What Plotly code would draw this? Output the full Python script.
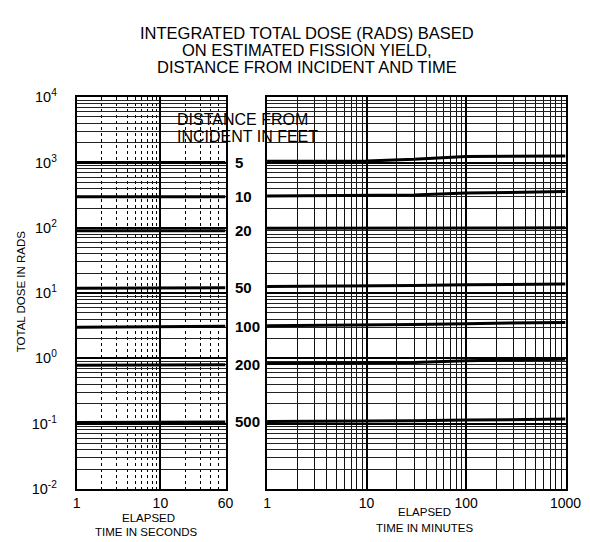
import plotly.graph_objects as go
import math

# ---------------- data ----------------
distances_ft = ["5", "10", "20", "50", "100", "200", "500"]

sec_times = [1, 10, 60]
sec_dose = {
    "5":   [1000, 1000, 1000],
    "10":  [300, 300, 300],
    "20":  [90, 90, 90],
    "50":  [11.8, 12.0, 12.1],
    "100": [3.0, 3.08, 3.1],
    "200": [0.78, 0.79, 0.80],
    "500": [0.104, 0.105, 0.106],
}

min_times = [1, 10, 30, 100, 1000]
min_dose = {
    "5":   [1050, 1060, 1120, 1240, 1260],
    "10":  [308, 310, 318, 340, 360],
    "20":  [98, 99, 100, 100, 100],
    "50":  [12.6, 12.8, 13.0, 13.4, 13.8],
    "100": [3.15, 3.2, 3.3, 3.4, 3.55],
    "200": [0.83, 0.84, 0.86, 0.92, 0.97],
    "500": [0.108, 0.109, 0.110, 0.113, 0.117],
}

y_tickvals = [1e-2, 1e-1, 1e0, 1e1, 1e2, 1e3, 1e4]
y_ticktext = ["10<sup>-2</sup>", "10<sup>-1</sup>", "10<sup>0</sup>", "10<sup>1</sup>",
              "10<sup>2</sup>", "10<sup>3</sup>", "10<sup>4</sup>"]
sec_tickvals = [1, 10, 60]
sec_ticktext = ["1", "10", "60"]
min_tickvals = [1, 10, 100, 1000]
min_ticktext = ["1", "10", "100", "1000"]

title_lines = ["INTEGRATED TOTAL DOSE (RADS) BASED",
               "ON ESTIMATED FISSION YIELD,",
               "DISTANCE FROM INCIDENT AND TIME"]

# ---------------- figure ----------------
W, H = 590, 542
FONT = "Liberation Sans, Arial, sans-serif"

fig = go.Figure()

for d in distances_ft:
    fig.add_trace(go.Scatter(x=sec_times, y=sec_dose[d], mode="lines",
                             line=dict(color="black", width=3),
                             xaxis="x", yaxis="y", showlegend=False, hoverinfo="skip"))
    fig.add_trace(go.Scatter(x=min_times, y=min_dose[d], mode="lines",
                             line=dict(color="black", width=3),
                             xaxis="x2", yaxis="y2", showlegend=False, hoverinfo="skip"))

y_minor = [m * 10 ** e for e in range(-2, 4) for m in range(2, 10)]
sec_minor = [2, 3, 4, 5, 6, 7, 8, 9, 20, 30, 40, 50]
min_minor = [m * 10 ** e for e in range(0, 3) for m in range(2, 10)]

ydom = [(H - 487) / H, (H - 82) / H]

common_axis = dict(showline=True, linecolor="black", linewidth=2, mirror=True,
                   ticks="", showgrid=True, gridcolor="black", gridwidth=1.8,
                   zeroline=False)

fig.update_layout(
    width=W, height=H,
    margin=dict(l=0, r=0, t=0, b=0),
    paper_bgcolor="white", plot_bgcolor="white",
    font=dict(family=FONT, color="black"),
    xaxis=dict(type="log", domain=[67 / W, 221 / W], range=[0, math.log10(60)],
               tickvals=sec_tickvals, ticktext=sec_ticktext,
               tickfont=dict(size=14), ticklabelstandoff=0,
               minor=dict(tickvals=sec_minor, showgrid=True, gridcolor="black",
                          gridwidth=1.2, griddash="dot", ticks=""),
               anchor="y", **common_axis),
    yaxis=dict(type="log", domain=ydom, range=[-2, 4],
               tickvals=y_tickvals, ticktext=y_ticktext,
               tickfont=dict(size=14.5), ticklabelstandoff=15,
               minor=dict(tickvals=y_minor, showgrid=True, gridcolor="#222",
                          gridwidth=1, ticks=""),
               anchor="x", **common_axis),
    xaxis2=dict(type="log", domain=[264 / W, 573 / W], range=[0, 3],
                tickvals=min_tickvals, ticktext=min_ticktext,
                tickfont=dict(size=14), ticklabelstandoff=0,
                minor=dict(tickvals=min_minor, showgrid=True, gridcolor="#111",
                           gridwidth=1.4, ticks=""),
                anchor="y2", **common_axis),
    yaxis2=dict(type="log", domain=ydom, range=[-2, 4],
                tickvals=y_tickvals, showticklabels=False,
                minor=dict(tickvals=y_minor, showgrid=True, gridcolor="#222",
                           gridwidth=1, ticks=""),
                anchor="x2", **common_axis),
)

ann = []
for i, line in enumerate(title_lines):
    ann.append(dict(text=line, x=305 / W, y=1 - (15 + 18 * i) / H, xref="paper", yref="paper",
                    xanchor="center", yanchor="middle", showarrow=False,
                    font=dict(size=16.5)))

ann.append(dict(text="DISTANCE FROM", x=169 / W, y=1 - 105 / H, xref="paper", yref="paper",
                xanchor="left", yanchor="middle", showarrow=False, font=dict(size=16)))
ann.append(dict(text="INCIDENT IN FEET", x=169 / W, y=1 - 123 / H, xref="paper", yref="paper",
                xanchor="left", yanchor="middle", showarrow=False, font=dict(size=16)))

for d in distances_ft:
    ann.append(dict(text="<b>%s</b>" % d, x=229 / W, y=math.log10(sec_dose[d][-1]),
                    xref="paper", yref="y", xanchor="left", yanchor="middle",
                    showarrow=False, font=dict(size=15)))

ann.append(dict(text="TOTAL DOSE IN RADS", x=9 / W, y=1 - 283 / H, xref="paper", yref="paper",
                textangle=-90, xanchor="center", yanchor="middle", showarrow=False,
                font=dict(size=11.5)))

ann.append(dict(text="ELAPSED", x=141 / W, y=1 - 517 / H, xref="paper", yref="paper",
                xanchor="center", yanchor="middle", showarrow=False, font=dict(size=11.5)))
ann.append(dict(text="TIME IN SECONDS", x=139 / W, y=1 - 532 / H, xref="paper", yref="paper",
                xanchor="center", yanchor="middle", showarrow=False, font=dict(size=11.5)))
ann.append(dict(text="ELAPSED", x=427 / W, y=1 - 511 / H, xref="paper", yref="paper",
                xanchor="center", yanchor="middle", showarrow=False, font=dict(size=11.5)))
ann.append(dict(text="TIME IN MINUTES", x=427 / W, y=1 - 528 / H, xref="paper", yref="paper",
                xanchor="center", yanchor="middle", showarrow=False, font=dict(size=11.5)))

fig.update_layout(annotations=ann)

fig.write_html("out.html")
